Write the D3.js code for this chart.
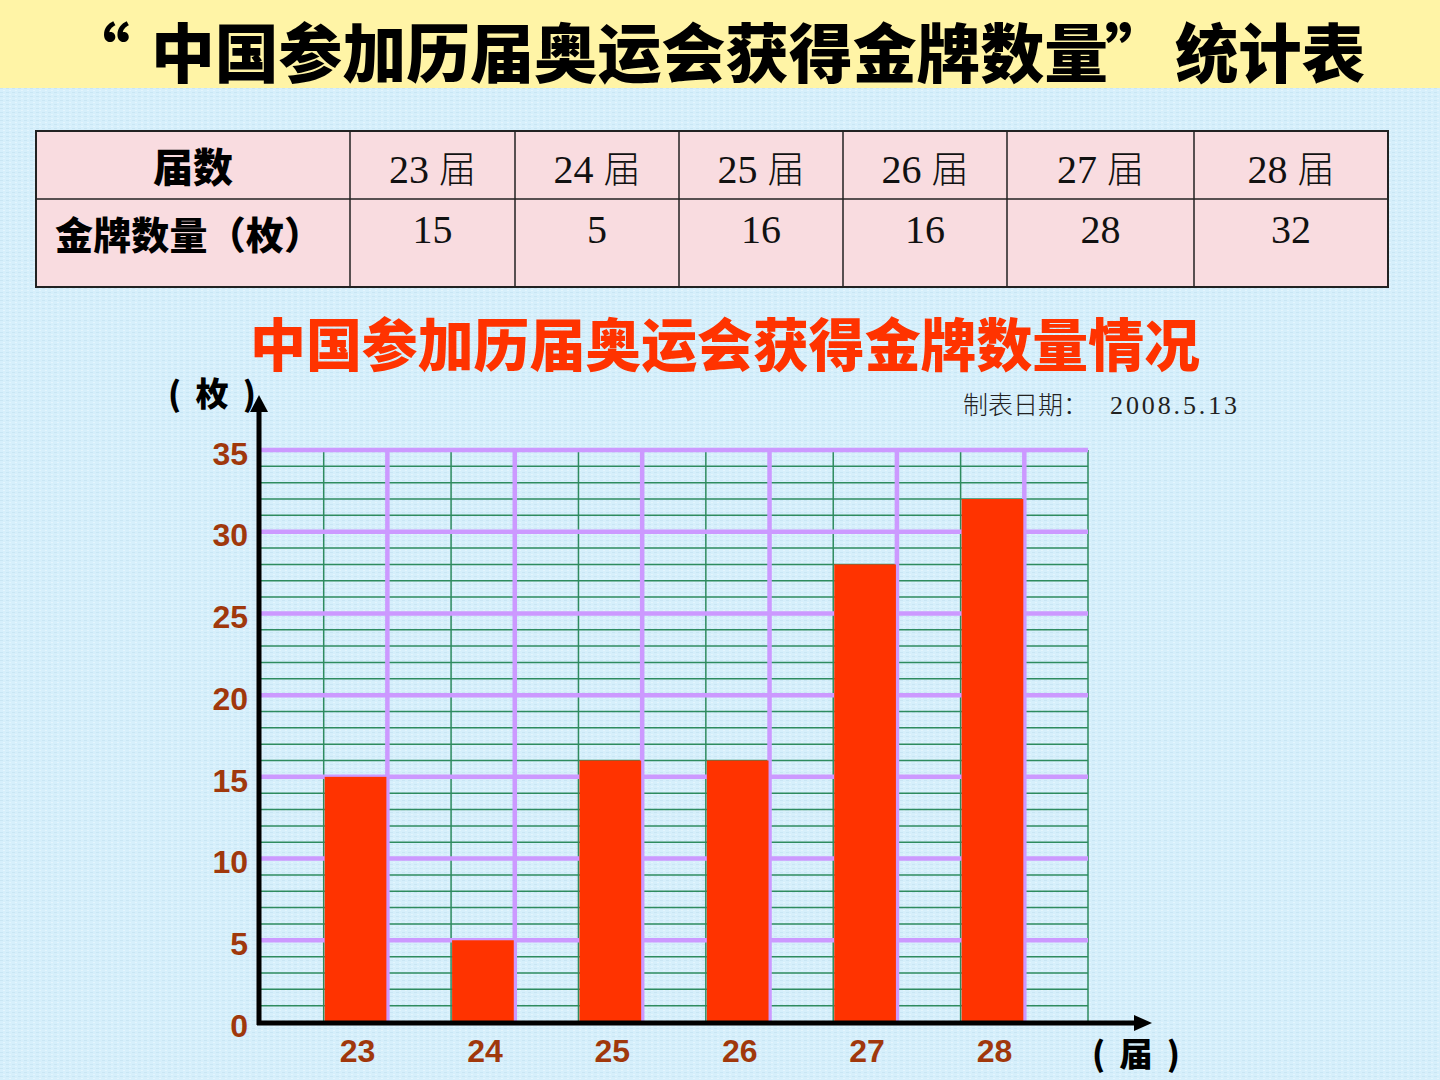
<!DOCTYPE html>
<html><head><meta charset="utf-8">
<script src="https://cdn.jsdelivr.net/npm/d3@7"></script>
<style>
html,body{margin:0;padding:0;background:#d5eefa;}
svg{display:block;}
svg text{text-spacing-trim:space-all;}
</style></head>
<body>
<svg id="c" width="1440" height="1080"></svg>
<script>
// ---- data ----
const titleOpen = "“";
const titleMain = "中国参加历届奥运会获得金牌数量";
const titleClose = "”";
const titleTail = "统计表";
const chartTitle = "中国参加历届奥运会获得金牌数量情况";
const dateLabel = "制表日期：";
const dateValue = "2008.5.13";
const editions = ["23", "24", "25", "26", "27", "28"];
const editionSuffix = "届";
const golds = [15, 5, 16, 16, 28, 32];
const yTicks = [0, 5, 10, 15, 20, 25, 30, 35];
const tableRowHeaders = ["届数", "金牌数量（枚）"];
const yUnit = "( 枚 )";
const xUnit = "( 届 )";

// ---- layout ----
const svg = d3.select("#c");
const W = 1440, H = 1080;
const CJK = "'Noto Sans CJK SC', sans-serif";

svg.append("rect").attr("width", W).attr("height", H).attr("fill", "#d5eefa");
const defs = svg.append("defs");
const pat = defs.append("pattern").attr("id", "tex").attr("width", 6).attr("height", 4).attr("patternUnits", "userSpaceOnUse");
pat.append("rect").attr("width", 6).attr("height", 4).attr("fill", "#d6effb");
pat.append("rect").attr("x", 0).attr("y", 0).attr("width", 3).attr("height", 1).attr("fill", "#c9e6f4");
pat.append("rect").attr("x", 3).attr("y", 2).attr("width", 2).attr("height", 1).attr("fill", "#e4f5fd");
svg.append("rect").attr("width", W).attr("height", H).attr("fill", "url(#tex)");

// title band
svg.append("rect").attr("x", 0).attr("y", 0).attr("width", W).attr("height", 88).attr("fill", "#fff4a6");
const tt = svg.append("g").attr("font-family", CJK).attr("font-weight", 900).attr("font-size", 64).attr("fill", "#000");
tt.append("text").attr("x", 130).attr("y", 77).attr("text-anchor", "end").text(titleOpen);
tt.append("text").attr("x", 151).attr("y", 77).attr("textLength", 957).attr("lengthAdjust", "spacingAndGlyphs").text(titleMain);
tt.append("text").attr("x", 1105).attr("y", 77).text(titleClose);
tt.append("text").attr("x", 1175).attr("y", 77).attr("textLength", 190).attr("lengthAdjust", "spacingAndGlyphs").text(titleTail);

// ---- table ----
const colEdges = [36, 350, 515, 679, 843, 1007, 1194, 1388];
const rowEdges = [131, 199, 287];
const tg = svg.append("g");
tg.append("rect").attr("x", colEdges[0]).attr("y", rowEdges[0])
  .attr("width", colEdges[colEdges.length - 1] - colEdges[0]).attr("height", rowEdges[2] - rowEdges[0])
  .attr("fill", "#f9dce0").attr("stroke", "#222").attr("stroke-width", 2);
tg.selectAll("line.v").data(colEdges.slice(1, -1)).join("line")
  .attr("x1", d => d).attr("x2", d => d).attr("y1", rowEdges[0]).attr("y2", rowEdges[2])
  .attr("stroke", "#222").attr("stroke-width", 1.5);
tg.append("line").attr("x1", colEdges[0]).attr("x2", colEdges[colEdges.length - 1])
  .attr("y1", rowEdges[1]).attr("y2", rowEdges[1]).attr("stroke", "#222").attr("stroke-width", 1.5);
const hdrX = (colEdges[0] + colEdges[1]) / 2;
tg.append("text").attr("x", hdrX).attr("y", 182).attr("text-anchor", "middle")
  .attr("font-family", CJK).attr("font-weight", 900).attr("font-size", 40).text(tableRowHeaders[0]);
tg.append("text").attr("x", 55).attr("y", 249)
  .attr("textLength", 267).attr("lengthAdjust", "spacing")
  .attr("font-family", CJK).attr("font-weight", 900).attr("font-size", 38).text(tableRowHeaders[1]);
editions.forEach((e, i) => {
  const cx = (colEdges[i + 1] + colEdges[i + 2]) / 2;
  const t = tg.append("text").attr("x", cx).attr("y", 183).attr("text-anchor", "middle")
    .attr("font-size", 40).attr("fill", "#111");
  t.append("tspan").attr("font-family", "'Liberation Serif', serif").text(e + " ");
  t.append("tspan").attr("font-family", CJK).attr("font-weight", 300).attr("font-size", 37).text(editionSuffix);
  tg.append("text").attr("x", cx).attr("y", 243).attr("text-anchor", "middle")
    .attr("font-family", "'Liberation Serif', serif").attr("font-size", 40).attr("fill", "#111").text(golds[i]);
});

// chart title
svg.append("text").attr("x", 250).attr("y", 366)
  .attr("textLength", 950).attr("lengthAdjust", "spacingAndGlyphs")
  .attr("font-family", CJK).attr("font-weight", 900).attr("font-size", 57)
  .attr("fill", "#ff3300").text(chartTitle);
svg.append("text").attr("x", 963).attr("y", 414)
  .attr("font-family", CJK).attr("font-weight", 300).attr("font-size", 25)
  .attr("fill", "#222").text(dateLabel);
svg.append("text").attr("x", 1110).attr("y", 414).attr("textLength", 127).attr("lengthAdjust", "spacing")
  .attr("font-family", "'Liberation Serif', serif").attr("font-size", 26)
  .attr("fill", "#222").text(dateValue);

// ---- chart ----
const x0 = 260, x1 = 1088, yBase = 1022, yTop = 450;
const x = d3.scaleBand().domain(editions).range([x0, x1]).paddingInner(0.5).paddingOuter(0.5);
const y = d3.scaleLinear().domain([0, 35]).range([yBase, yTop]);
const colW = x.bandwidth();
const g = svg.append("g");

const minor = d3.range(1, 36).filter(v => v % 5 !== 0);
g.selectAll("line.hm").data(minor).join("line")
  .attr("x1", x0).attr("x2", x1).attr("y1", d => y(d)).attr("y2", d => y(d))
  .attr("stroke", "#2e8b5f").attr("stroke-width", 1.5);
const vk = d3.range(1, 14);
g.selectAll("line.vg").data(vk.filter(k => k % 2 === 1)).join("line")
  .attr("x1", k => x0 + k * colW).attr("x2", k => x0 + k * colW)
  .attr("y1", y(0)).attr("y2", y(35))
  .attr("stroke", "#2e8b5f").attr("stroke-width", 1.5);
g.selectAll("line.hM").data(yTicks.filter(v => v > 0)).join("line")
  .attr("x1", x0).attr("x2", x1).attr("y1", d => y(d)).attr("y2", d => y(d))
  .attr("stroke", "#cc99ff").attr("stroke-width", 4.5);
g.selectAll("line.vp").data(vk.filter(k => k % 2 === 0)).join("line")
  .attr("x1", k => x0 + k * colW).attr("x2", k => x0 + k * colW)
  .attr("y1", y(0)).attr("y2", y(35) - 2)
  .attr("stroke", "#cc99ff").attr("stroke-width", 4.5);

// bars
g.selectAll("rect.bar").data(golds).join("rect")
  .attr("x", (d, i) => x(editions[i]) + 1)
  .attr("y", d => y(d))
  .attr("width", colW - 2)
  .attr("height", d => y(0) - y(d))
  .attr("fill", "#ff3300");

// axes
const axisG = svg.append("g");
axisG.append("line").attr("x1", x0 - 1).attr("x2", x0 - 1).attr("y1", yBase + 3).attr("y2", 410)
  .attr("stroke", "#000").attr("stroke-width", 5);
axisG.append("path").attr("d", `M${x0 - 10},${412} L${x0 - 1},${395} L${x0 + 8},${412} Z`).attr("fill", "#000");
axisG.append("line").attr("x1", x0 - 3).attr("x2", 1138).attr("y1", yBase + 1).attr("y2", yBase + 1)
  .attr("stroke", "#000").attr("stroke-width", 5);
axisG.append("path").attr("d", `M1134,${yBase - 7} L1152,${yBase + 1} L1134,${yBase + 9} Z`).attr("fill", "#000");

const yAxis = d3.axisLeft(y).tickValues(yTicks).tickSize(0).tickPadding(0);
const ya = svg.append("g").attr("transform", `translate(${x0 - 12},4)`).call(yAxis);
ya.select(".domain").remove();
ya.selectAll("text").attr("font-family", "'Liberation Sans', Arial, sans-serif").attr("font-weight", "bold")
  .attr("font-size", 32).attr("fill", "#a0380c");

const xAxis = d3.axisBottom(x).tickSize(0).tickPadding(0);
const xa = svg.append("g").attr("transform", `translate(2,${yBase + 17})`).call(xAxis);
xa.select(".domain").remove();
xa.selectAll("text").attr("font-family", "'Liberation Sans', Arial, sans-serif").attr("font-weight", "bold")
  .attr("font-size", 32).attr("fill", "#a0380c");

// unit labels
svg.append("text").attr("x", 168).attr("y", 406).attr("textLength", 88).attr("lengthAdjust", "spacing")
  .attr("font-family", CJK).attr("font-weight", 900).attr("font-size", 33).text(yUnit);
svg.append("text").attr("x", 1092).attr("y", 1066).attr("textLength", 88).attr("lengthAdjust", "spacing")
  .attr("font-family", CJK).attr("font-weight", 900).attr("font-size", 33).text(xUnit);
</script>
</body></html>
